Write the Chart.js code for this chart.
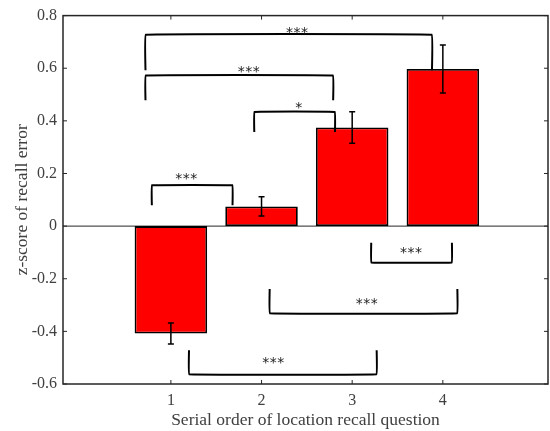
<!DOCTYPE html>
<html>
<head>
<meta charset="utf-8">
<script src="https://cdn.jsdelivr.net/npm/chart.js@4.4.1/dist/chart.umd.min.js"></script>
<style>
html, body { margin: 0; padding: 0; background: #fff; }
#wrap { width: 550px; height: 431px; }
</style>
</head>
<body>
<div id="wrap"><canvas id="myChart"></canvas></div>
<script>
// 質問の順番
var positions = [1, 2, 3, 4];
// 平均 z-score と標準誤差
var meanZ = [-0.408, 0.075, 0.375, 0.597];
var semZ = [0.040, 0.037, 0.060, 0.091];
var xTicks = [1, 2, 3, 4];
var yTicks = [-0.6, -0.4, -0.2, 0, 0.2, 0.4, 0.6, 0.8];
// 有意差の括弧: [x1, x2, 横線のy, 脚の端のy, ラベル, ラベルx, ラベルy]
var brackets = [
    [0.72, 3.88, 0.727, 0.592, '***', 2.39, 0.743],
    [0.72, 2.79, 0.572, 0.478, '***', 1.86, 0.597],
    [1.92, 2.81, 0.434, 0.358, '*', 2.41, 0.460],
    [0.79, 1.68, 0.155, 0.079, '***', 1.17, 0.189],
    [3.21, 4.10, -0.138, -0.063, '***', 3.65, -0.092],
    [2.09, 4.16, -0.331, -0.239, '***', 3.16, -0.286],
    [1.20, 3.27, -0.563, -0.472, '***', 2.13, -0.509]
];

var axisColor = '#262626';
var textColor = '#404040';

var datasets = [{
    type: 'bar',
    label: 'z-score',
    data: positions.map(function (p, i) { return { x: p, y: meanZ[i] }; }),
    backgroundColor: '#ff0000',
    borderColor: '#000000',
    borderWidth: 1.8,
    borderSkipped: false,
    barPercentage: 0.8,
    categoryPercentage: 1.0,
    order: 2
}];

brackets.forEach(function (b) {
    datasets.push({
        type: 'line',
        label: b[4],
        data: [
            { x: b[0], y: b[3] },
            { x: b[0], y: b[2] },
            { x: b[1], y: b[2] },
            { x: b[1], y: b[3] }
        ],
        borderColor: '#000000',
        borderWidth: 2,
        borderJoinStyle: 'round',
        pointRadius: 0,
        tension: 0.03,
        fill: false,
        order: 1
    });
});

var framePlugin = {
    id: 'frame',
    beforeDatasetsDraw: function (chart) {
        var ctx = chart.ctx;
        var area = chart.chartArea;
        var y0 = chart.scales.y.getPixelForValue(0);
        ctx.save();
        ctx.strokeStyle = axisColor;
        ctx.lineWidth = 1;
        ctx.beginPath();
        ctx.moveTo(area.left, y0);
        ctx.lineTo(area.right, y0);
        ctx.stroke();
        ctx.restore();
    },
    afterDatasetsDraw: function (chart) {
        var ctx = chart.ctx;
        var area = chart.chartArea;
        var xs = chart.scales.x;
        var ys = chart.scales.y;
        ctx.save();
        // エラーバー
        ctx.strokeStyle = '#000000';
        ctx.lineWidth = 1.5;
        positions.forEach(function (p, i) {
            var px = xs.getPixelForValue(p);
            var top = ys.getPixelForValue(meanZ[i] + semZ[i]);
            var bot = ys.getPixelForValue(meanZ[i] - semZ[i]);
            ctx.beginPath();
            ctx.moveTo(px, top);
            ctx.lineTo(px, bot);
            ctx.moveTo(px - 3, top);
            ctx.lineTo(px + 3, top);
            ctx.moveTo(px - 3, bot);
            ctx.lineTo(px + 3, bot);
            ctx.stroke();
        });
        // アスタリスク（1文字ずつ間隔をあけて）
        ctx.fillStyle = '#222222';
        ctx.font = '14px "DejaVu Sans"';
        ctx.textAlign = 'center';
        ctx.textBaseline = 'middle';
        brackets.forEach(function (b) {
            var cx = xs.getPixelForValue(b[5]);
            var cy = ys.getPixelForValue(b[6]) + 3;
            var n = b[4].length;
            for (var k = 0; k < n; k++) {
                ctx.fillText(b[4][k], cx + (k - (n - 1) / 2) * 7.5, cy);
            }
        });
        // 枠と目盛り
        ctx.strokeStyle = axisColor;
        ctx.lineWidth = 1.5;
        ctx.strokeRect(area.left, area.top, area.right - area.left, area.bottom - area.top);
        ctx.lineWidth = 1;
        ctx.beginPath();
        yTicks.forEach(function (v) {
            var py = ys.getPixelForValue(v);
            ctx.moveTo(area.left, py);
            ctx.lineTo(area.left + 4, py);
            ctx.moveTo(area.right, py);
            ctx.lineTo(area.right - 4, py);
        });
        xTicks.forEach(function (v) {
            var px = xs.getPixelForValue(v);
            ctx.moveTo(px, area.bottom);
            ctx.lineTo(px, area.bottom - 4);
            ctx.moveTo(px, area.top);
            ctx.lineTo(px, area.top + 4);
        });
        ctx.stroke();
        ctx.restore();
    }
};

var ctx = document.getElementById('myChart').getContext('2d');
var myChart = new Chart(ctx, {
    data: { datasets: datasets },
    options: {
        responsive: true,
        maintainAspectRatio: false,
        animation: false,
        layout: { padding: { top: 12, right: 2, left: 0, bottom: 0 } },
        plugins: {
            legend: { display: false },
            tooltip: { enabled: false }
        },
        scales: {
            x: {
                type: 'linear',
                min: -0.19,
                max: 5.16,
                offset: false,
                grid: { display: false, drawTicks: false },
                border: { display: false },
                afterBuildTicks: function (scale) {
                    scale.ticks = xTicks.map(function (v) { return { value: v }; });
                },
                afterFit: function (scale) { scale.height = 47; },
                ticks: {
                    padding: 7,
                    color: textColor,
                    font: { family: 'Liberation Serif', size: 16 },
                    callback: function (v) { return String(v); }
                },
                title: {
                    display: true,
                    text: 'Serial order of location recall question',
                    color: textColor,
                    font: { family: 'Liberation Serif', size: 17.5 },
                    padding: { top: 0, bottom: 0 }
                }
            },
            y: {
                type: 'linear',
                min: -0.6,
                max: 0.8,
                grid: { display: false, drawTicks: false },
                border: { display: false },
                afterBuildTicks: function (scale) {
                    scale.ticks = yTicks.map(function (v) { return { value: v }; });
                },
                afterFit: function (scale) { scale.width = 63; },
                ticks: {
                    padding: 6,
                    color: textColor,
                    font: { family: 'Liberation Serif', size: 16 },
                    callback: function (v) { return String(Math.round(v * 10) / 10); }
                },
                title: {
                    display: true,
                    text: 'z-score of recall error',
                    color: textColor,
                    font: { family: 'Liberation Serif', size: 17.5 },
                    padding: { top: 12, bottom: 0 }
                }
            }
        }
    },
    plugins: [framePlugin]
});
</script>
</body>
</html>
